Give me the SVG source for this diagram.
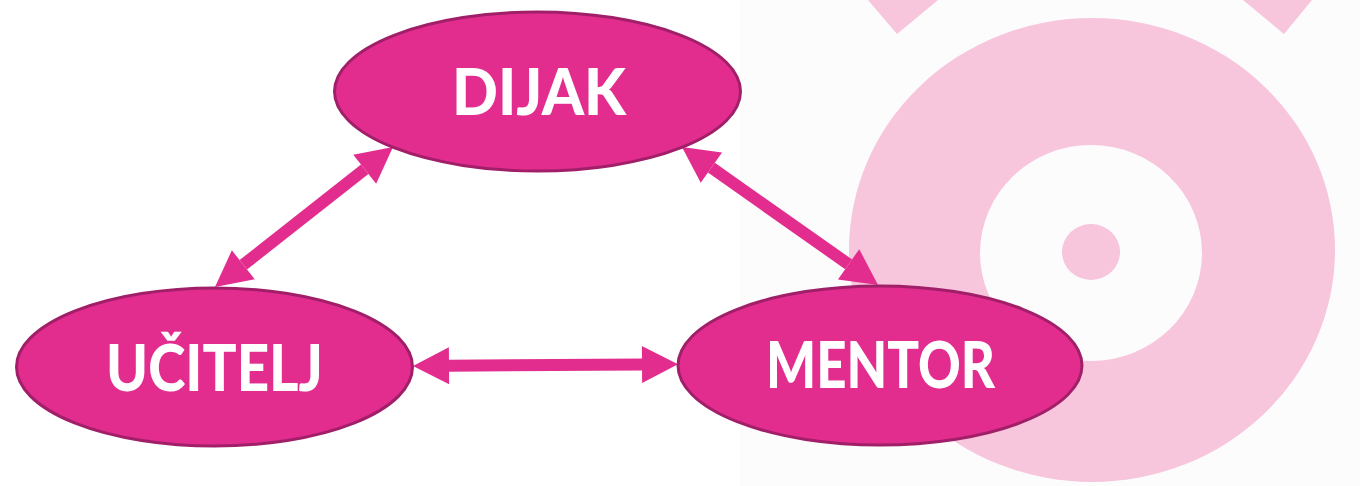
<svg xmlns="http://www.w3.org/2000/svg" width="1360" height="486" viewBox="0 0 1360 486">
  <style>
    .node { fill: #e22d8f; stroke: #a11f68; stroke-width: 3; }
    .label { font-family: Lato, "Liberation Sans", sans-serif; font-weight: 900; font-size: 64px; fill: #ffffff; text-anchor: middle; }
    .conn { stroke: #e22d8f; stroke-width: 12; fill: none; marker-start: url(#head); marker-end: url(#head); }
    .deco { fill: #f7c5dc; }
  </style>
  <defs>
    <marker id="head" markerUnits="userSpaceOnUse" markerWidth="40" markerHeight="40" viewBox="0 -20 38 40" refX="0" refY="0" orient="auto-start-reverse">
      <path d="M0,-18.5 L36,0 L0,18.5 Z" fill="#e22d8f"/>
    </marker>
  </defs>

  <rect x="0" y="0" width="1360" height="486" fill="#ffffff"/>
  <g id="background">
    <rect x="740" y="0" width="620" height="486" fill="#fcfcfc"/>
    <ellipse class="deco" cx="1092" cy="250" rx="243" ry="232"/>
    <ellipse cx="1091" cy="253" rx="111" ry="108" fill="#fcfcfc"/>
    <ellipse class="deco" cx="1091" cy="252" rx="29" ry="28"/>
    <polygon class="deco" points="868,0 938,0 897,34"/>
    <polygon class="deco" points="1243,0 1312,0 1284,34"/>
  </g>

  <g id="connectors">
    <line class="conn" x1="243.3" y1="264.8" x2="364.7" y2="169.2"/>
    <line class="conn" x1="711.4" y1="167.7" x2="848.6" y2="264.3"/>
    <line class="conn" x1="449" y1="365.8" x2="642" y2="364.4"/>
  </g>

  <g id="node-dijak">
    <ellipse class="node" cx="537.5" cy="91.5" rx="203" ry="79.5"/>
    <text class="label" x="539" y="115" textLength="174" lengthAdjust="spacingAndGlyphs">DIJAK</text>
  </g>
  <g id="node-ucitelj">
    <ellipse class="node" cx="214.5" cy="367" rx="198" ry="79"/>
    <text class="label" x="214.5" y="391" textLength="217" lengthAdjust="spacingAndGlyphs">UČITELJ</text>
  </g>
  <g id="node-mentor">
    <ellipse class="node" cx="880" cy="365.5" rx="202" ry="79.5"/>
    <text class="label" x="880.5" y="388" textLength="229" lengthAdjust="spacingAndGlyphs">MENTOR</text>
  </g>
</svg>
